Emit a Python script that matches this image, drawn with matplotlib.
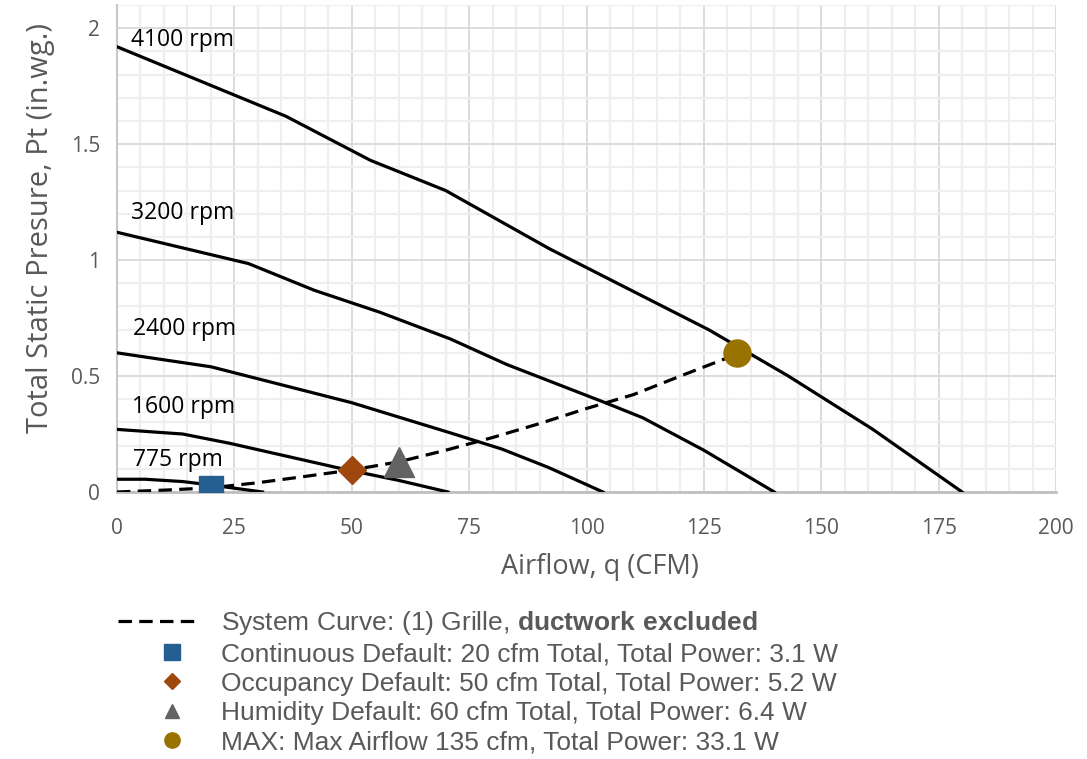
import matplotlib
matplotlib.use("Agg")
import matplotlib.pyplot as plt
from matplotlib.lines import Line2D
from matplotlib.legend_handler import HandlerLine2D
from matplotlib.ticker import MultipleLocator
import numpy as np

# ---- data ----
x_4100 = [0, 36, 54, 70, 92, 126, 143, 161, 180]
y_4100 = [1.92, 1.62, 1.43, 1.30, 1.05, 0.70, 0.50, 0.27, 0.0]

x_3200 = [0, 28, 42, 56, 71, 83, 104, 112, 125, 140]
y_3200 = [1.12, 0.985, 0.87, 0.775, 0.66, 0.55, 0.385, 0.32, 0.18, 0.0]

x_2400 = [0, 20, 50, 71, 82, 92, 103.5]
y_2400 = [0.60, 0.54, 0.385, 0.255, 0.185, 0.105, 0.0]

x_1600 = [0, 14, 24, 48, 60, 70.5]
y_1600 = [0.27, 0.25, 0.21, 0.10, 0.05, 0.0]

x_775 = [0, 6, 14, 20, 31]
y_775 = [0.055, 0.055, 0.045, 0.03, 0.0]

x_sys = [0, 10, 20, 30, 40, 50, 60, 70, 80, 90, 100, 110, 120, 132]
y_sys = [0, 0.008, 0.018, 0.04, 0.067, 0.095, 0.13, 0.18, 0.235, 0.295, 0.36, 0.42, 0.5, 0.594]

fan_curves = [
    ("4100 rpm", x_4100, y_4100, 3, 1.95),
    ("3200 rpm", x_3200, y_3200, 3, 1.205),
    ("2400 rpm", x_2400, y_2400, 3.4, 0.705),
    ("1600 rpm", x_1600, y_1600, 3.2, 0.366),
    ("775 rpm", x_775, y_775, 3.4, 0.138),
]

points_x = [20, 50, 60, 132]
points_y = [0.018, 0.093, 0.13, 0.598]
points_marker = ["s", "D", "^", "o"]
points_color = ["#255E91", "#9E480E", "#636363", "#997300"]
points_size = [17, 14, 21, 19.5]
points_label = [
    "Continuous Default: 20 cfm Total, Total Power: 3.1 W",
    "Occupancy Default: 50 cfm Total, Total Power: 5.2 W",
    "Humidity Default: 60 cfm Total, Total Power: 6.4 W",
    "MAX: Max Airflow 135 cfm, Total Power: 33.1 W",
]
legend_marker_size = [11, 8, 10, 11]
sys_label = "System Curve: (1) Grille, $\\bf{ductwork\\ excluded}$"

plt.rcParams["mathtext.fontset"] = "custom"
plt.rcParams["mathtext.bf"] = "Liberation Sans:bold"
plt.rcParams["mathtext.rm"] = "Liberation Sans"

GRAY = "#595959"

fig = plt.figure(figsize=(10.87, 7.59), dpi=100)
ax = fig.add_axes([117 / 1087, 1 - 492 / 759, 939 / 1087, 487 / 759])

ax.set_xlim(0, 200)
ax.set_ylim(0, 2.1)
ax.xaxis.set_major_locator(MultipleLocator(25))
ax.xaxis.set_minor_locator(MultipleLocator(5))
ax.set_yticks([0, 0.5, 1, 1.5, 2])
ax.set_yticklabels(["0", "0.5", "1", "1.5", "2"])
ax.yaxis.set_minor_locator(MultipleLocator(0.1))
ax.grid(which="minor", color="#EFEFEF", linewidth=1.6, zorder=0)
ax.grid(which="major", color="#D9D9D9", linewidth=1.3, zorder=0)
ax.set_axisbelow(True)
ax.tick_params(which="both", length=0)
ax.tick_params(axis="x", pad=19, labelsize=15, labelcolor=GRAY)
ax.tick_params(axis="y", pad=12, labelsize=15, labelcolor=GRAY)
for lab in ax.get_xticklabels() + ax.get_yticklabels():
    lab.set_fontfamily("Open Sans")
for s in ["top", "right"]:
    ax.spines[s].set_visible(False)
ax.spines["bottom"].set_color("#BFBFBF")
ax.spines["bottom"].set_linewidth(2)
ax.spines["left"].set_color("#C8C8C8")
ax.spines["left"].set_linewidth(1.5)

ax.set_xlabel("Airflow, q (CFM)", fontsize=19.5, color=GRAY, family="Open Sans")
ax.set_ylabel("Total Static Presure, Pt (in.wg.)", fontsize=21, color=GRAY, family="Open Sans")
ax.xaxis.set_label_coords(0.514, -0.125)
ax.yaxis.set_label_coords(-0.0657, 0.543)

for name, xs, ys, lx, ly in fan_curves:
    ax.plot(xs, ys, color="black", linewidth=2.3, solid_joinstyle="round", zorder=3)
    ax.text(lx, ly, name, fontsize=16.5, color="black", family="Open Sans", va="center", ha="left")

sys_line, = ax.plot(x_sys, y_sys, color="black", linewidth=2.3, dashes=(4.2, 2.3), zorder=4, label=sys_label)

handles = [sys_line]
for px, py, m, c, s, lab, ls in zip(points_x, points_y, points_marker, points_color, points_size, points_label, legend_marker_size):
    ax.plot([px], [py], marker=m, color=c, markersize=s, linestyle="none", zorder=5)
    handles.append(Line2D([], [], marker=m, color=c, markersize=ls, linestyle="none", label=lab))


class ShiftedHandler(HandlerLine2D):
    def create_artists(self, legend, orig_handle, xdescent, ydescent, width, height, fontsize, trans):
        artists = super().create_artists(legend, orig_handle, xdescent, ydescent, width, height, fontsize, trans)
        for a in artists:
            if a.get_marker() not in (None, "None", "", " "):
                xd = np.array(a.get_xdata(), dtype=float)
                if len(xd) == 3:
                    xd[1] += 10.8
                elif len(xd) == 1:
                    xd[0] += 10.8
                a.set_xdata(xd)
        return artists


leg = fig.legend(handles=handles, loc="upper left", bbox_to_anchor=(118 / 1087, 1 - 609 / 759),
                 frameon=False, borderpad=0, borderaxespad=0,
                 handlelength=2.95, handletextpad=0.95, labelspacing=0.2,
                 handler_map={Line2D: ShiftedHandler(numpoints=1)},
                 prop={"family": "Liberation Sans", "size": 19})
for t in leg.get_texts():
    t.set_color(GRAY)

fig.savefig("out.png", dpi=100)
